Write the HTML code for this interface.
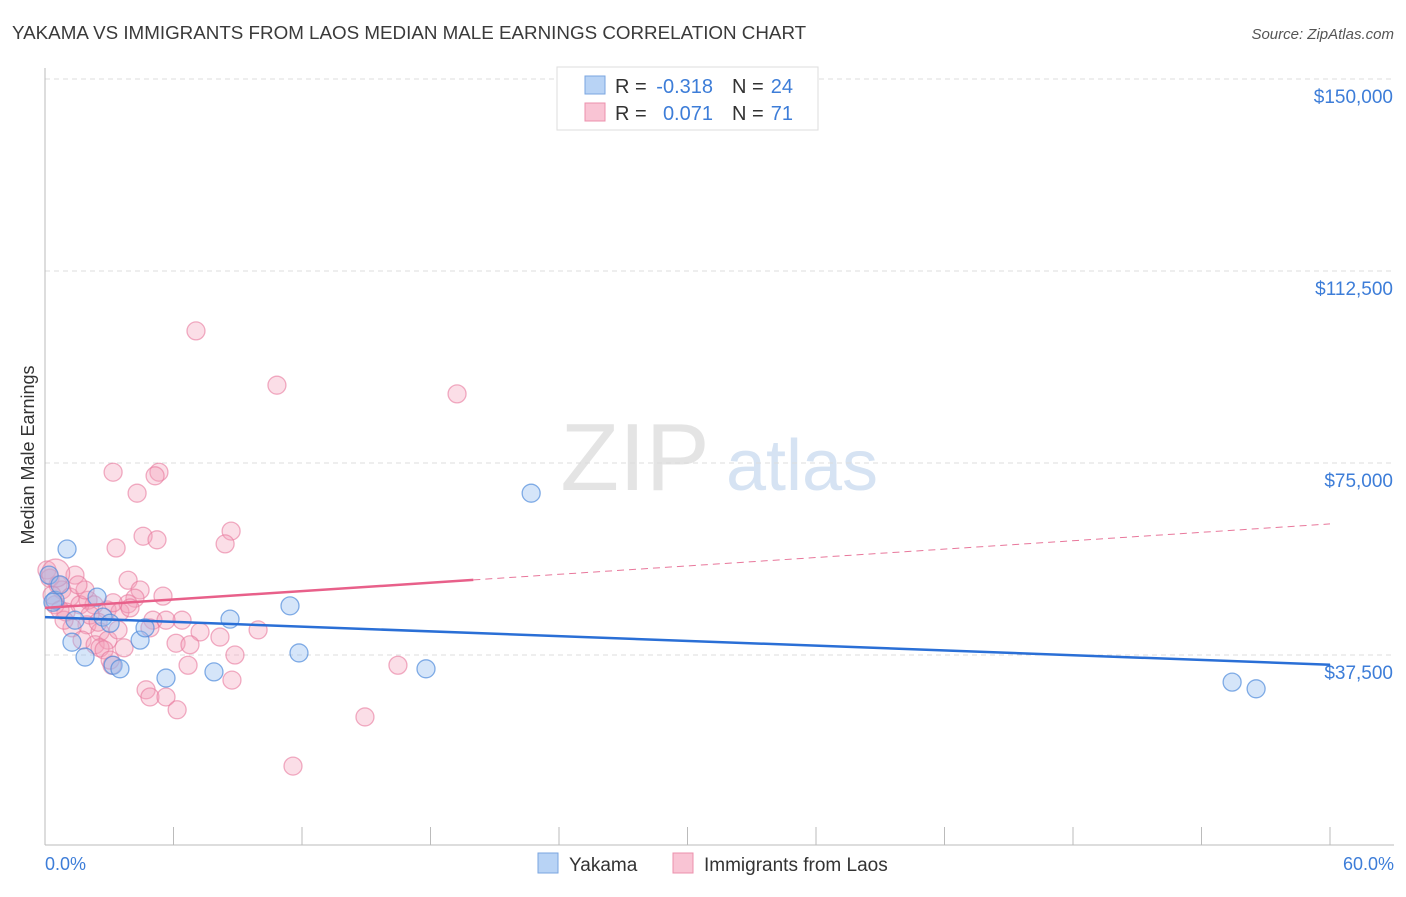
<!DOCTYPE html>
<html><head><meta charset="utf-8"><style>
body{margin:0;background:#fff;font-family:"Liberation Sans",sans-serif;}
svg text{font-family:"Liberation Sans",sans-serif;}
</style></head><body>
<svg id="chart" width="1406" height="892" xmlns="http://www.w3.org/2000/svg">
<text x="12" y="39" font-size="18.8" fill="#3a3a3a">YAKAMA VS IMMIGRANTS FROM LAOS MEDIAN MALE EARNINGS CORRELATION CHART</text>
<text x="1394" y="39" font-size="15" font-style="italic" fill="#555" text-anchor="end">Source: ZipAtlas.com</text>
<g>
<text x="635" y="490" font-size="96" font-family="Liberation Serif" fill="#e4e4e4" text-anchor="middle">ZIP</text>
<text x="802" y="490" font-size="72" fill="#d6e3f3" text-anchor="middle">atlas</text>
</g>
<g id="grid"></g>
<g id="axes"></g>
<g id="marks"></g>
<text transform="translate(34,455) rotate(-90)" font-size="18" fill="#333" text-anchor="middle">Median Male Earnings</text>
<text x="45" y="870" font-size="18" fill="#3d7dd8">0.0%</text>
<text x="1394" y="870" font-size="18" fill="#3d7dd8" text-anchor="end">60.0%</text>
<g font-size="20">
<rect x="557" y="67" width="261" height="63" fill="#fff" stroke="#ddd"/>
<rect x="585" y="76" width="20" height="18" fill="#b8d3f5" stroke="#7aa6e0"/>
<rect x="585" y="103" width="20" height="18" fill="#f9c4d4" stroke="#ec90ac"/>
<text x="615" y="93" fill="#333">R =</text>
<text x="713" y="93" fill="#3d7dd8" text-anchor="end">-0.318</text>
<text x="732" y="93" fill="#333">N =</text>
<text x="793" y="93" fill="#3d7dd8" text-anchor="end">24</text>
<text x="615" y="120" fill="#333">R =</text>
<text x="713" y="120" fill="#3d7dd8" text-anchor="end">0.071</text>
<text x="732" y="120" fill="#333">N =</text>
<text x="793" y="120" fill="#3d7dd8" text-anchor="end">71</text>
</g>
<g>
<rect x="538" y="853" width="20" height="20" fill="#b8d3f5" stroke="#7aa6e0"/>
<text x="569" y="871" font-size="19" fill="#333">Yakama</text>
<rect x="673" y="853" width="20" height="20" fill="#f9c4d4" stroke="#ec90ac"/>
<text x="704" y="871" font-size="19" fill="#333">Immigrants from Laos</text>
</g>
</svg>
<script>
const yTicks=[37500,75000,112500,150000];
const yTickLabels=["$37,500","$75,000","$112,500","$150,000"];
const xTicks=[0,6,12,18,24,30,36,42,48,54,60];
const yakamaX=[1.03,0.19,0.47,2.43,2.71,3.04,1.26,1.87,3.18,3.50,4.44,4.67,5.65,7.89,8.64,11.44,11.86,17.79,22.70,55.43,56.55,0.37,0.70,1.40];
const yakamaY=[58.2,53.1,48.2,48.8,44.9,43.7,40.0,37.1,35.5,34.8,40.4,42.8,33.0,34.2,44.5,47.1,37.9,34.8,69.1,32.2,30.9,47.8,51.2,44.3];
const laosX=[7.05,10.83,19.24,3.18,5.32,5.14,4.30,8.69,4.58,5.23,8.41,3.32,0.09,0.23,0.61,0.79,3.88,4.44,5.51,4.20,1.17,2.01,2.29,1.63,2.90,3.50,3.88,3.18,6.40,5.04,1.96,1.26,2.57,1.73,2.34,2.94,7.24,9.95,8.17,6.12,6.77,2.57,2.76,3.69,8.87,3.13,6.68,16.48,8.73,4.72,4.90,5.65,6.17,14.94,11.58,0.98,0.47,1.40,1.87,2.10,0.89,0.33,2.48,3.41,3.97,5.65,0.70,1.54,4.90,3.04,0.5];
const laosY=[100.8,90.2,88.5,73.2,73.2,72.5,69.1,61.7,60.7,60.0,59.2,58.4,54.1,52.5,51.2,50.2,52.1,50.2,49.0,48.6,48.8,48.2,47.3,47.3,46.3,45.9,47.5,47.7,44.3,44.3,43.4,42.8,42.0,40.4,39.5,40.4,42.0,42.4,41.0,39.8,39.5,38.9,38.5,38.9,37.5,35.5,35.5,35.5,32.6,30.7,29.3,29.3,26.8,25.4,15.8,45.9,47.3,53.1,50.2,45.3,44.3,49.2,43.9,42.4,46.7,44.3,46.3,51.2,42.8,36.5,53.5];
const yakamaTrend=[44.9,35.6];
const laosTrend=[46.7,63.1];
const laosSolidEnd=20;
const NS="http://www.w3.org/2000/svg";
const L=45,R=1330,T=79,B=847;
const sx=v=>L+(v/60)*(R-L);
const sy=v=>B-(v/150000)*(B-T);
function mk(tag,attrs,parent){const e=document.createElementNS(NS,tag);for(const k in attrs)e.setAttribute(k,attrs[k]);parent.appendChild(e);return e;}
const grid=document.getElementById('grid'),axes=document.getElementById('axes'),marks=document.getElementById('marks');
yTicks.forEach((t,i)=>{
 const g=mk('line',{x1:L,x2:1394,y1:sy(t),y2:sy(t),stroke:'#dcdcdc','stroke-dasharray':'5,4'},grid);
 
 
 const tx=mk('text',{x:1393,y:sy(t)+24,'font-size':19,fill:'#3d7dd8','text-anchor':'end'},axes);
 tx.textContent=yTickLabels[i];
 
 
});
const xa=mk('line',{x1:L,x2:1394,y1:B-2,y2:B-2,stroke:'#bbb'},axes);


const ya=mk('line',{x1:L,x2:L,y1:68,y2:B-2,stroke:'#bbb'},axes);


xTicks.forEach(t=>{
 const l=mk('line',{x1:sx(t),x2:sx(t),y1:B-2,y2:B-20,stroke:'#bbb'},axes);
 
 
});
laosX.forEach((x,i)=>{
 const c=mk('circle',{cx:sx(x),cy:sy(laosY[i]*1000),r:i===laosX.length-1?14:9,fill:'rgba(244,160,186,0.35)',stroke:'rgba(232,120,156,0.6)','stroke-width':1.3},marks);
 
 
});
yakamaX.forEach((x,i)=>{
 const c=mk('circle',{cx:sx(x),cy:sy(yakamaY[i]*1000),r:9,fill:'rgba(150,190,240,0.4)',stroke:'rgba(80,140,220,0.7)','stroke-width':1.3},marks);
 
 
});
const lt=v=>laosTrend[0]+(laosTrend[1]-laosTrend[0])*v/60;
const ld=mk('line',{x1:sx(laosSolidEnd),y1:sy(lt(laosSolidEnd)*1000),x2:sx(60),y2:sy(lt(60)*1000),stroke:'#e8779b','stroke-width':1,'stroke-dasharray':'7,5'},marks);


const ls=mk('line',{x1:sx(0),y1:sy(lt(0)*1000),x2:sx(laosSolidEnd),y2:sy(lt(laosSolidEnd)*1000),stroke:'#e8608a','stroke-width':2.5},marks);


const yl=mk('line',{x1:sx(0),y1:sy(yakamaTrend[0]*1000),x2:sx(60),y2:sy(yakamaTrend[1]*1000),stroke:'#2a6fd6','stroke-width':2.5},marks);


</script>
</body></html>
